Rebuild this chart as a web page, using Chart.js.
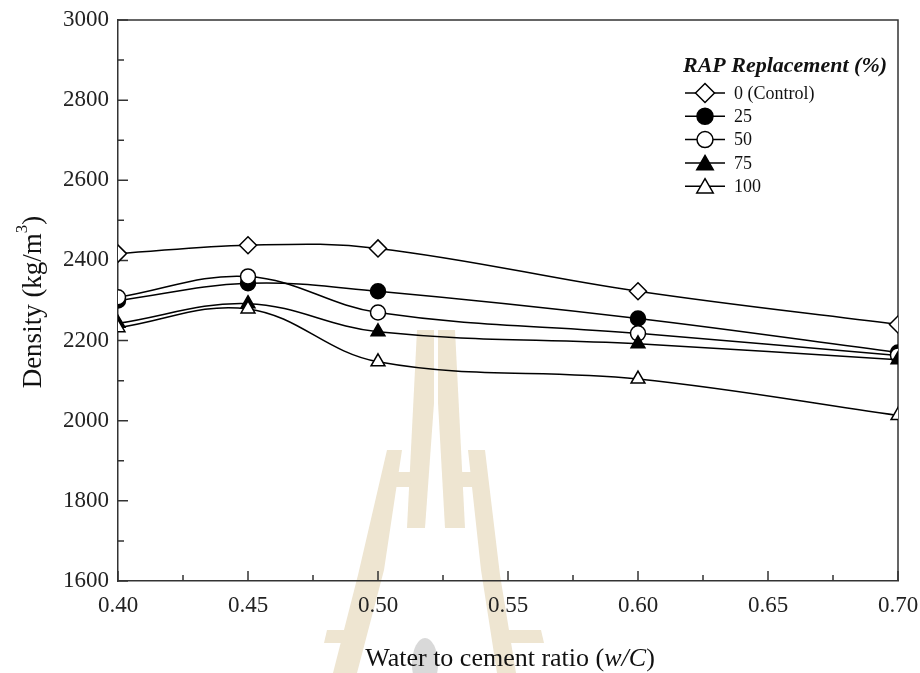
<!DOCTYPE html>
<html>
<head>
<meta charset="utf-8">
<title>Density vs water to cement ratio</title>
<script src="https://cdn.jsdelivr.net/npm/chart.js"></script>
<style>
  html, body { margin: 0; padding: 0; background: #fff; }
  #wrap { width: 920px; height: 673px; }
</style>
</head>
<body>
<div id="wrap"><canvas id="density-chart" width="920" height="673"></canvas></div>
<script>
// water to cement ratios tested
const wcRatio = [0.40, 0.45, 0.50, 0.60, 0.70];

// density (kg/m3) for each RAP replacement level
const rap0 = [2417, 2438, 2430, 2323, 2240];
const rap25 = [2300, 2343, 2323, 2255, 2170];
const rap50 = [2308, 2360, 2270, 2218, 2163];
const rap75 = [2243, 2292, 2222, 2192, 2152];
const rap100 = [2232, 2279, 2147, 2104, 2013];

const seriesLabels = ['0 (Control)', '25', '50', '75', '100'];
const legendTitle = 'RAP Replacement (%)';

const xTicks = [0.40, 0.45, 0.50, 0.55, 0.60, 0.65, 0.70];
const yTicks = [1600, 1800, 2000, 2200, 2400, 2600, 2800, 3000];

const SERIF = '"Liberation Serif", "Times New Roman", serif';
const INK = '#111';
const AXIS = '#333';

function series(idx, values, pointStyle, fill, radius) {
    return {
        label: seriesLabels[idx],
        data: wcRatio.map((x, i) => ({ x: x, y: values[i] })),
        borderColor: '#000',
        borderWidth: 1.5,
        tension: 0.38,
        pointStyle: pointStyle,
        pointRadius: radius,
        pointHoverRadius: radius,
        pointBackgroundColor: fill,
        pointBorderColor: '#000',
        pointBorderWidth: 1.5,
        order: 4 - idx // later series sit on top
    };
}

// marker used by the legend box
function drawMarker(ctx, style, fill, x, y, r) {
    ctx.beginPath();
    if (style === 'circle') {
        ctx.arc(x, y, r, 0, Math.PI * 2);
    } else if (style === 'rectRot') {
        ctx.moveTo(x - r, y);
        ctx.lineTo(x, y - r);
        ctx.lineTo(x + r, y);
        ctx.lineTo(x, y + r);
        ctx.closePath();
    } else {
        ctx.moveTo(x, y - r);
        ctx.lineTo(x + 0.866 * r, y + 0.5 * r);
        ctx.lineTo(x - 0.866 * r, y + 0.5 * r);
        ctx.closePath();
    }
    ctx.fillStyle = fill;
    ctx.fill();
    ctx.lineWidth = 1.5;
    ctx.strokeStyle = '#000';
    ctx.stroke();
}

// faint crest printed behind the page
const crestShapes = [
    [[417, 330], [434, 330], [434, 403], [425, 528], [407, 528]],
    [[438, 330], [455, 330], [465, 528], [445, 528], [438, 403]],
    [[396, 472], [411, 472], [410, 487], [394, 487]],
    [[461, 472], [473, 472], [475, 487], [462, 487]],
    [[387, 450], [402, 450], [384, 570], [357, 673], [333, 673], [358, 575]],
    [[468, 450], [485, 450], [500, 575], [516, 673], [497, 673], [481, 570]],
    [[327, 630], [350, 630], [347, 643], [324, 643]],
    [[505, 630], [541, 630], [544, 643], [508, 643]]
];

const paperPlugin = {
    id: 'paper',
    beforeDraw(chart) {
        const ctx = chart.ctx;
        ctx.save();
        ctx.fillStyle = '#fff';
        ctx.fillRect(0, 0, chart.width, chart.height);
        ctx.fillStyle = '#eee5d1';
        crestShapes.forEach(poly => {
            ctx.beginPath();
            poly.forEach((p, i) => i ? ctx.lineTo(p[0], p[1]) : ctx.moveTo(p[0], p[1]));
            ctx.closePath();
            ctx.fill();
        });
        ctx.fillStyle = '#d9d9d9';
        ctx.beginPath();
        ctx.ellipse(425, 664, 13, 26, 0, 0, Math.PI * 2);
        ctx.fill();
        ctx.restore();
    }
};

// closed frame plus inward major/minor ticks
const framePlugin = {
    id: 'frame',
    beforeDatasetsDraw(chart) {
        const ctx = chart.ctx;
        const a = chart.chartArea;
        const xs = chart.scales.x, ys = chart.scales.y;
        ctx.save();
        ctx.strokeStyle = AXIS;
        ctx.lineWidth = 1.5;
        ctx.beginPath();
        ctx.moveTo(a.left, a.top);
        ctx.lineTo(a.right, a.top);
        ctx.lineTo(a.right, a.bottom);
        ctx.stroke();

        ctx.beginPath();
        xTicks.forEach((v, i) => {
            const px = xs.getPixelForValue(v);
            ctx.moveTo(px, a.bottom);
            ctx.lineTo(px, a.bottom - 10);
            if (i < xTicks.length - 1) {
                const mx = xs.getPixelForValue((v + xTicks[i + 1]) / 2);
                ctx.moveTo(mx, a.bottom);
                ctx.lineTo(mx, a.bottom - 6);
            }
        });
        yTicks.forEach((v, i) => {
            const py = ys.getPixelForValue(v);
            ctx.moveTo(a.left, py);
            ctx.lineTo(a.left + 10, py);
            if (i < yTicks.length - 1) {
                const my = ys.getPixelForValue((v + yTicks[i + 1]) / 2);
                ctx.moveTo(a.left, my);
                ctx.lineTo(a.left + 6, my);
            }
        });
        ctx.stroke();
        ctx.restore();
    }
};

// axis titles (mixed italic / superscript) and the legend box
const labelsPlugin = {
    id: 'labels',
    afterDraw(chart) {
        const ctx = chart.ctx;
        ctx.save();
        ctx.fillStyle = INK;
        ctx.textBaseline = 'middle';
        ctx.textAlign = 'left';

        // x title
        const xParts = [
            { t: 'Water to cement ratio (', f: '26px ' + SERIF },
            { t: 'w/C', f: 'italic 26px ' + SERIF },
            { t: ')', f: '26px ' + SERIF }
        ];
        let total = 0;
        xParts.forEach(p => { ctx.font = p.f; p.w = ctx.measureText(p.t).width; total += p.w; });
        let cx = 510 - total / 2;
        xParts.forEach(p => { ctx.font = p.f; ctx.fillText(p.t, cx, 659); cx += p.w; });

        // y title
        ctx.save();
        ctx.translate(34, 302);
        ctx.rotate(-Math.PI / 2);
        const yParts = [
            { t: 'Density (kg/m', f: '27px ' + SERIF, dy: 0 },
            { t: '3', f: '17px ' + SERIF, dy: -11 },
            { t: ')', f: '27px ' + SERIF, dy: 0 }
        ];
        total = 0;
        yParts.forEach(p => { ctx.font = p.f; p.w = ctx.measureText(p.t).width; total += p.w; });
        cx = -total / 2;
        yParts.forEach(p => { ctx.font = p.f; ctx.fillText(p.t, cx, p.dy); cx += p.w; });
        ctx.restore();

        // legend
        ctx.font = 'italic bold 22px ' + SERIF;
        ctx.fillText(legendTitle, 683, 66);
        ctx.font = '18px ' + SERIF;
        chart.data.datasets.forEach((ds, i) => {
            const y = 93 + i * 23.3;
            ctx.strokeStyle = '#000';
            ctx.lineWidth = 1.5;
            ctx.beginPath();
            ctx.moveTo(685, y);
            ctx.lineTo(725, y);
            ctx.stroke();
            const r = ds.pointStyle === 'circle' ? 8 : 9.5;
            drawMarker(ctx, ds.pointStyle, ds.pointBackgroundColor, 705, ds.pointStyle === 'triangle' ? y + 2 : y, r);
            ctx.fillStyle = INK;
            ctx.fillText(ds.label, 734, y + 1);
        });
        ctx.restore();
    }
};

function fixEdges(scale) {
    scale.paddingLeft = 0;
    scale.paddingRight = 0;
    scale.paddingTop = 0;
    scale.paddingBottom = 0;
}

new Chart(document.getElementById('density-chart'), {
    type: 'line',
    data: {
        datasets: [
            series(0, rap0, 'rectRot', '#fff', 8.5),
            series(1, rap25, 'circle', '#000', 7.5),
            series(2, rap50, 'circle', '#fff', 7.5),
            series(3, rap75, 'triangle', '#000', 8),
            series(4, rap100, 'triangle', '#fff', 8)
        ]
    },
    options: {
        responsive: false,
        animation: false,
        layout: { padding: { top: 20, right: 22, left: 0, bottom: 0 } },
        scales: {
            x: {
                type: 'linear',
                min: 0.40,
                max: 0.70,
                afterBuildTicks: scale => { scale.ticks = xTicks.map(v => ({ value: v })); },
                afterFit: scale => { scale.height = 92; fixEdges(scale); },
                grid: { display: false, drawTicks: false },
                border: { display: true, color: AXIS, width: 1.5 },
                ticks: {
                    padding: 11,
                    color: '#222',
                    maxRotation: 0,
                    font: { family: SERIF, size: 23 },
                    callback: v => Number(v).toFixed(2)
                }
            },
            y: {
                min: 1600,
                max: 3000,
                afterBuildTicks: scale => { scale.ticks = yTicks.map(v => ({ value: v })); },
                afterFit: scale => { scale.width = 118; fixEdges(scale); },
                grid: { display: false, drawTicks: false },
                border: { display: true, color: AXIS, width: 1.5 },
                ticks: {
                    padding: 9,
                    color: '#222',
                    font: { family: SERIF, size: 23 },
                    callback: v => String(v)
                }
            }
        },
        plugins: {
            legend: { display: false },
            tooltip: { enabled: false }
        }
    },
    plugins: [paperPlugin, framePlugin, labelsPlugin]
});
</script>
</body>
</html>
